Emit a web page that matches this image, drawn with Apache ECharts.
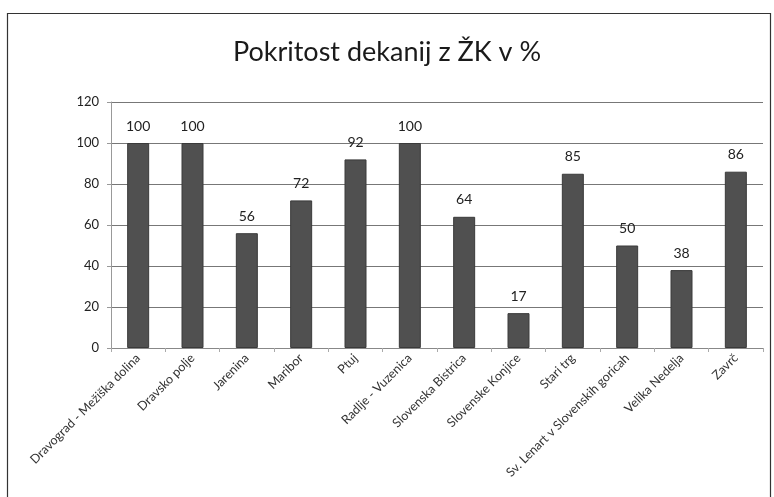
<!DOCTYPE html>
<html><head><meta charset="utf-8">
<script src="https://cdn.jsdelivr.net/npm/echarts@6/dist/echarts.min.js"></script>
<style>html,body{margin:0;padding:0;background:#fff}#c{width:774px;height:497px}</style>
</head><body><div id="c"></div>
<script>
const categories = ["Dravograd - Mežiška dolina","Dravsko polje","Jarenina","Maribor","Ptuj","Radlje - Vuzenica","Slovenska Bistrica","Slovenske Konjice","Stari trg","Sv. Lenart v Slovenskih goricah","Velika Nedelja","Zavrč"];
const values = [100,100,56,72,92,100,64,17,85,50,38,86];
const titleText = "Pokritost dekanij z ŽK v %";
const chart = echarts.init(document.getElementById('c'));
chart.setOption({
  animation:false,
  backgroundColor:'#fff',
  textStyle:{fontFamily:'Lato'},
  title:{text:titleText,left:'center',top:34,textStyle:{fontFamily:'Lato',fontSize:27,fontWeight:'normal',color:'#1a1a1a'}},
  graphic:[{type:'rect',shape:{x:7.5,y:13.5,width:763,height:520},style:{fill:'none',stroke:'#333',lineWidth:1.2},silent:true}],
  grid:{left:111,right:11,top:102,bottom:149},
  xAxis:{type:'category',data:categories,
    axisLine:{lineStyle:{color:'#888'}},
    axisTick:{show:true,length:4,lineStyle:{color:'#aaa'}},
    axisLabel:{rotate:45,interval:0,fontSize:12.5,color:'#333',margin:8}},
  yAxis:{type:'value',min:0,max:120,interval:20,
    axisLine:{show:true,lineStyle:{color:'#999'}},
    axisTick:{show:true,length:4,lineStyle:{color:'#999'}},
    axisLabel:{fontSize:13,color:'#222',margin:12},
    splitLine:{lineStyle:{color:'#777',width:1}}},
  series:[{type:'bar',data:values,barWidth:22,
    itemStyle:{color:'#505050',borderColor:'#3a3a3a',borderWidth:1},
    label:{show:true,position:'top',distance:10,fontSize:14,color:'#222'}}]
});
</script></body></html>
